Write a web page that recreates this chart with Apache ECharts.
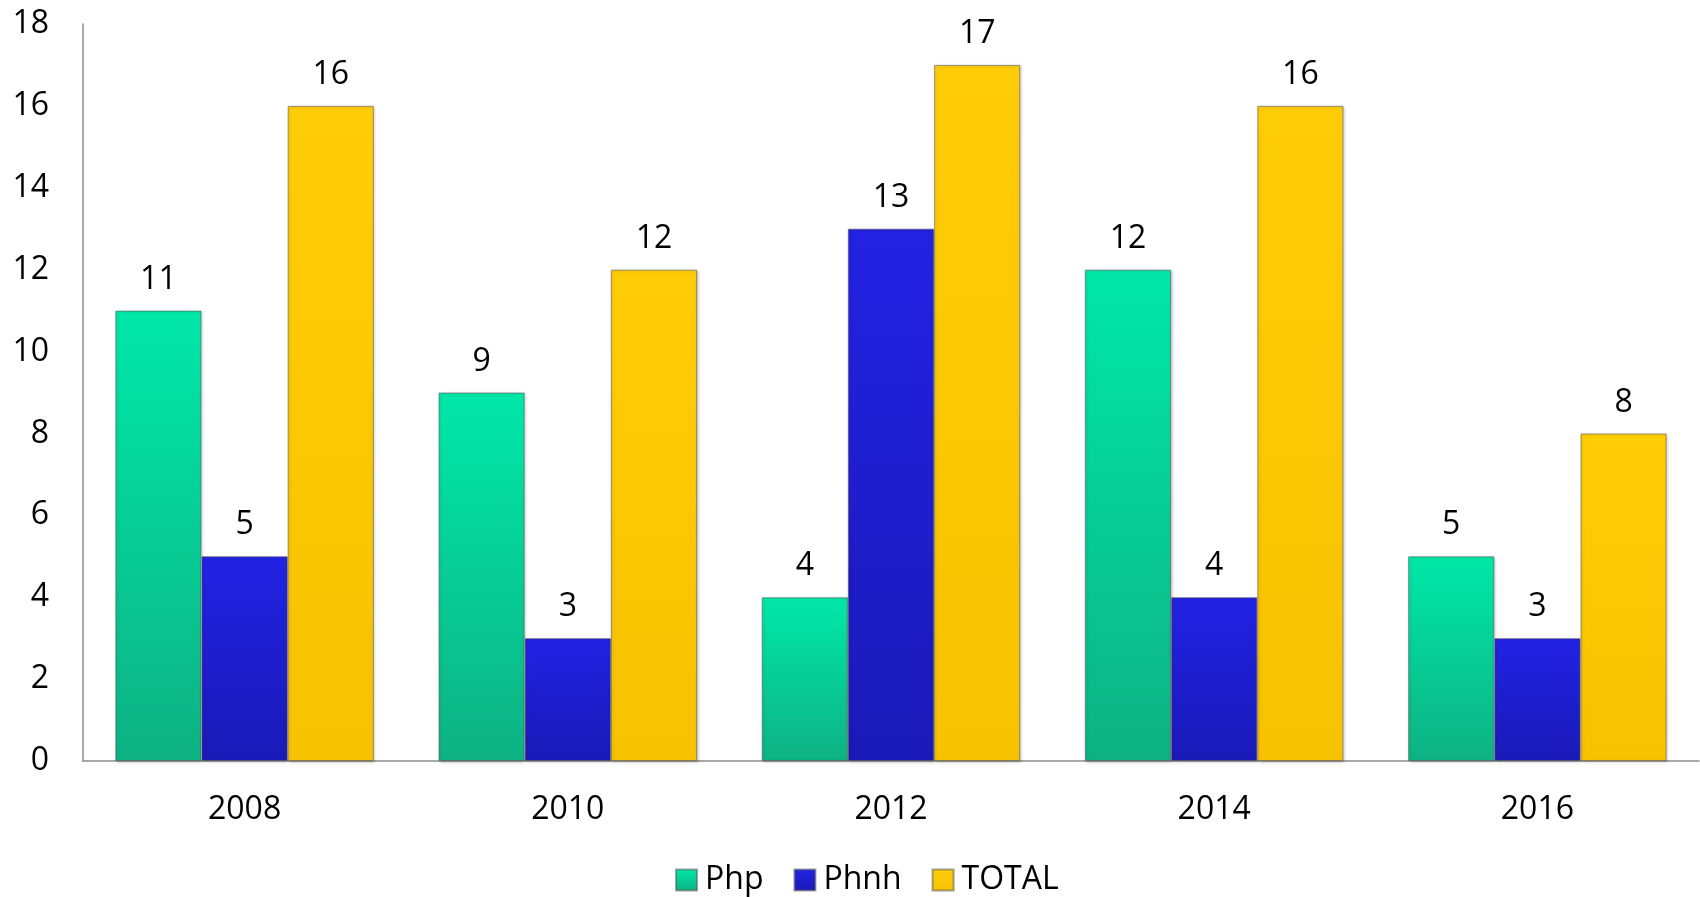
<!DOCTYPE html>
<html>
<head>
<meta charset="utf-8">
<script src="https://cdn.jsdelivr.net/npm/echarts@6/dist/echarts.min.js"></script>
<style>html,body{margin:0;padding:0;background:#fff}#c{width:1700px;height:897px}</style>
</head>
<body>
<div id="c"></div>
<script>
const categories = ['2008', '2010', '2012', '2014', '2016'];
const php = [11, 9, 4, 12, 5];
const phnh = [5, 3, 13, 4, 3];
const total = [16, 12, 17, 16, 8];
const yTicks = { min: 0, max: 18, interval: 2 };

const FONT = '"Open Sans", "Liberation Sans", sans-serif';
function grad(top, bottom) {
  return new echarts.graphic.LinearGradient(0, 0, 0, 1, [
    { offset: 0, color: top },
    { offset: 1, color: bottom }
  ]);
}
function series(name, data, top, bottom) {
  return {
    name: name,
    type: 'bar',
    data: data,
    barGap: '0%',
    barCategoryGap: '20%',
    itemStyle: {
      color: grad(top, bottom),
      borderColor: 'rgba(90,90,90,0.55)',
      borderWidth: 1,
      shadowColor: 'rgba(0,0,0,0.25)',
      shadowBlur: 3,
      shadowOffsetX: 1,
      shadowOffsetY: 1
    },
    label: {
      show: true,
      position: 'top',
      distance: 15,
      color: '#000',
      fontSize: 32,
      fontFamily: FONT
    }
  };
}
const chart = echarts.init(document.getElementById('c'));
chart.setOption({
  animation: false,
  backgroundColor: '#fff',
  grid: { left: 83, right: 1, top: 24, bottom: 136 },
  legend: {
    bottom: -4,
    left: 670,
    itemWidth: 21,
    itemHeight: 21,
    itemGap: 30,
    icon: 'rect',
    textStyle: { fontSize: 32, color: '#000', fontFamily: FONT, padding: [0, 0, 0, 3] },
    data: ['Php', 'Phnh', 'TOTAL']
  },
  xAxis: {
    type: 'category',
    data: categories,
    axisLine: { lineStyle: { color: '#8c8c8c', width: 1.5 } },
    axisTick: { show: false },
    axisLabel: { fontSize: 32, color: '#000', fontFamily: FONT, margin: 33 }
  },
  yAxis: {
    type: 'value',
    min: yTicks.min,
    max: yTicks.max,
    interval: yTicks.interval,
    axisLine: { show: true, lineStyle: { color: '#8c8c8c', width: 1.5 } },
    axisTick: { show: false },
    splitLine: { show: false },
    axisLabel: { fontSize: 32, color: '#000', fontFamily: FONT, margin: 34 }
  },
  series: [
    series('Php', php, '#00e8a8', '#0eb283'),
    series('Phnh', phnh, '#2222e4', '#1a1ab8'),
    series('TOTAL', total, '#ffcd06', '#f7c200')
  ]
});
</script>
</body>
</html>
